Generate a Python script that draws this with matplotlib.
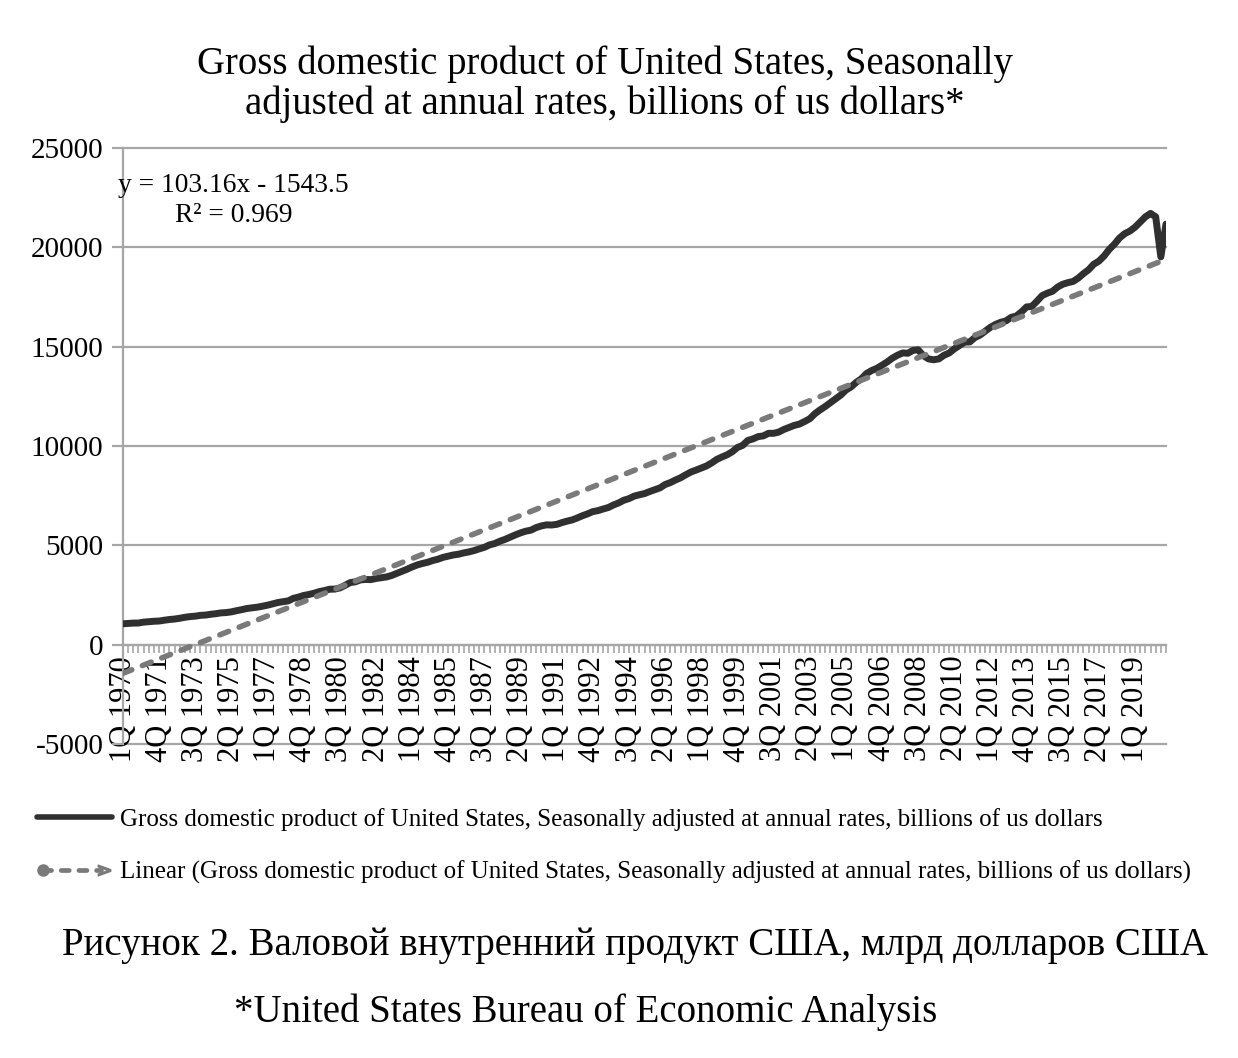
import matplotlib
matplotlib.use("Agg")
import matplotlib.pyplot as plt
from matplotlib.lines import Line2D
from matplotlib.legend_handler import HandlerBase

plt.rcParams['font.family'] = ['Liberation Serif', 'DejaVu Serif']

# ---- data (billions of US dollars, SAAR), 1Q 1970 .. 3Q 2020 ----
gdp_1970s = [1051, 1067, 1086, 1089, 1135, 1156, 1178, 1190, 1231, 1266,
             1291, 1329, 1378, 1414, 1434, 1476, 1491, 1530, 1560, 1600,
             1616, 1652, 1710, 1762, 1821, 1852, 1887, 1934, 1989, 2056,
             2119, 2164, 2203, 2332, 2395, 2477, 2527, 2591, 2668, 2724]
gdp_1980s = [2790, 2797, 2857, 2986, 3124, 3163, 3261, 3281, 3274, 3331,
             3367, 3408, 3480, 3584, 3692, 3796, 3913, 4015, 4087, 4148,
             4237, 4302, 4395, 4453, 4516, 4555, 4620, 4669, 4736, 4822,
             4901, 5023, 5091, 5208, 5300, 5413, 5527, 5628, 5712, 5763]
gdp_1990s = [5891, 5975, 6030, 6023, 6055, 6144, 6218, 6279, 6381, 6492,
             6587, 6698, 6748, 6830, 6904, 7033, 7136, 7270, 7352, 7477,
             7545, 7605, 7707, 7800, 7893, 8062, 8159, 8287, 8402, 8552,
             8692, 8788, 8890, 8995, 9147, 9326, 9447, 9557, 9712, 9926]
gdp_2000s = [10031, 10278, 10357, 10472, 10508, 10638, 10640, 10701, 10834, 10935,
             11037, 11104, 11230, 11371, 11625, 11817, 11988, 12181, 12368, 12562,
             12814, 12974, 13205, 13382, 13649, 13800, 13909, 14066, 14233, 14422,
             14570, 14685, 14668, 14813, 14843, 14550, 14384, 14340, 14384, 14567]
gdp_2010s = [14681, 14889, 15058, 15230, 15238, 15461, 15587, 15785, 15974, 16122,
             16228, 16297, 16475, 16541, 16749, 17000, 17025, 17286, 17569, 17692,
             17784, 17998, 18142, 18223, 18282, 18450, 18675, 18869, 19148, 19305,
             19562, 19895, 20156, 20470, 20687, 20819, 21013, 21272, 21532, 21707]
gdp_2020 = [21538, 19520, 21170]
gdp = gdp_1970s + gdp_1980s + gdp_1990s + gdp_2000s + gdp_2010s + gdp_2020

years = list(range(1970, 2021))
quarters = [f"{q}Q {y}" for y in years for q in (1, 2, 3, 4)][:len(gdp)]

trend_slope = 103.16
trend_intercept = -1543.5
trend_r2 = 0.969

y_ticks = [-5000, 0, 5000, 10000, 15000, 20000, 25000]
label_step = 7

title = "Gross domestic product of United States, Seasonally\nadjusted at annual rates, billions of us dollars*"
series_name = "Gross domestic product of United States, Seasonally adjusted at annual rates, billions of us dollars"
trend_name = "Linear (Gross domestic product of United States, Seasonally adjusted at annual rates, billions of us dollars)"
caption1 = "Рисунок 2. Валовой внутренний продукт США, млрд долларов США"
caption2 = "*United States Bureau of Economic Analysis"

# ---- figure ----
W, H = 1238, 1058
fig = plt.figure(figsize=(W / 100, H / 100), dpi=100)
left, right, top, bottom = 123, 1166, 148, 744
ax = fig.add_axes([left / W, 1 - bottom / H, (right - left) / W, (bottom - top) / H])

x = list(range(len(gdp)))
trend = [trend_slope * (i + 1) + trend_intercept for i in x]

grid_c = '#a6a6a6'
for yt in y_ticks:
    ax.axhline(yt, color=grid_c, lw=1.6, zorder=1, clip_on=False)

line_c = '#303030'
trend_c = '#7a7a7a'
dash = (0, (1.7, 2.05))
ax.plot(x, gdp, color=line_c, lw=5.0, solid_capstyle='round',
        solid_joinstyle='round', zorder=3)
ax.plot(x, trend, color=trend_c, lw=4.0, linestyle=dash,
        dash_capstyle='round', zorder=4)

ax.set_xlim(0, len(gdp) - 1)
ax.set_ylim(-5000, 25000)
ax.set_yticks(y_ticks)
ax.set_yticklabels([str(v) for v in y_ticks], fontsize=21)

for s in ('top', 'right'):
    ax.spines[s].set_visible(False)
ax.spines['left'].set_color(grid_c)
ax.spines['left'].set_linewidth(1.6)
ax.spines['bottom'].set_position(('data', 0))
ax.spines['bottom'].set_color(grid_c)
ax.spines['bottom'].set_linewidth(1.6)

ax.set_xticks(x[::label_step])
ax.set_xticklabels(quarters[::label_step], rotation=90, fontsize=22)
ax.set_xticks(x, minor=True)
ax.tick_params(axis='x', which='both', direction='out', length=6,
               color=grid_c, width=1.2, pad=2)
ax.tick_params(axis='y', direction='out', length=8, color=grid_c, width=1.6, pad=6)

ax.text(118 / W, 1 - 192 / H, f"y = {trend_slope}x - {abs(trend_intercept)}",
        transform=fig.transFigure, fontsize=19.8, ha='left', va='baseline')
ax.text(234 / W, 1 - 222 / H, f"R² = {trend_r2}",
        transform=fig.transFigure, fontsize=19.8, ha='center', va='baseline')

fig.text(605 / W, 1 - 84 / H, title, ha='center', va='center', fontsize=27.9,
         linespacing=1.1)


class TrendHandler(HandlerBase):
    def create_artists(self, legend, orig_handle, xdescent, ydescent,
                       width, height, fontsize, trans):
        y = height / 2 - ydescent
        x0, x1 = -xdescent + 4, width - xdescent - 8
        ln = Line2D([x0, x1], [y, y], color=trend_c, lw=3.4, linestyle=dash,
                    dash_capstyle='round')
        st = Line2D([x0], [y], color=trend_c, marker='o', markersize=8, lw=0)
        en = Line2D([x1 + 2], [y], color=trend_c, marker=r'$>$', markersize=9, lw=0)
        for a in (ln, st, en):
            a.set_transform(trans)
        return [ln, st, en]


h_solid = Line2D([], [], color=line_c, lw=4.0, solid_capstyle='round')
h_trend = Line2D([], [], color=trend_c, lw=3.4, linestyle=dash)
fig.legend([h_solid, h_trend], [series_name, trend_name],
           loc='upper left', bbox_to_anchor=(32 / W, 1 - 803 / H),
           frameon=False, fontsize=18,
           handler_map={h_trend: TrendHandler()},
           handlelength=3.0, handletextpad=0.3, labelspacing=1.18,
           borderaxespad=0, borderpad=0.2)

fig.text(635 / W, 1 - 945 / H, caption1, ha='center', va='center', fontsize=28)
fig.text(586 / W, 1 - 1012 / H, caption2, ha='center', va='center', fontsize=28)

fig.savefig("out.png", dpi=100)
